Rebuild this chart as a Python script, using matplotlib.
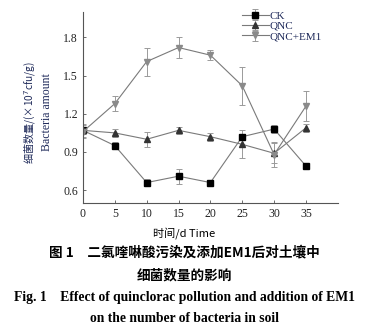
import matplotlib.pyplot as plt

days = [0, 5, 10, 15, 20, 25, 30, 35]
ck = [1.07, 0.95, 0.66, 0.71, 0.66, 1.02, 1.08, 0.79]
ck_err = [0.03, 0.03, 0.03, 0.06, 0.02, 0.02, 0.03, 0.01]
qnc = [1.07, 1.05, 1.00, 1.07, 1.02, 0.96, 0.89, 1.09]
qnc_err = [0.05, 0.03, 0.06, 0.03, 0.03, 0.11, 0.08, 0.03]
qnc_em1 = [1.06, 1.28, 1.61, 1.72, 1.66, 1.42, 0.88, 1.26]
qnc_em1_err = [0.05, 0.06, 0.11, 0.08, 0.04, 0.15, 0.10, 0.12]

x_ticks = [0, 5, 10, 15, 20, 25, 30, 35]
y_ticks = [0.6, 0.9, 1.2, 1.5, 1.8]

serif = ["Liberation Serif", "DejaVu Serif"]
cjk = ["Noto Sans CJK SC", "DejaVu Sans"]

fig = plt.figure(figsize=(3.68, 3.30), dpi=100)
ax = fig.add_axes([0.2255, 0.385, 0.6925, 0.579])

series = [
    (ck, ck_err, "s", "black", "CK"),
    (qnc, qnc_err, "^", "#333333", "QNC"),
    (qnc_em1, qnc_em1_err, "v", "#8a8a8a", "QNC+EM1"),
]
for vals, err, mk, col, lab in series:
    ax.errorbar(days, vals, yerr=err, color="#7a7a7a", linewidth=0.8,
                marker=mk, markersize=4.5, markerfacecolor=col,
                markeredgecolor=col, ecolor="#9a9a9a", elinewidth=0.7,
                capsize=2, capthick=0.7, label=lab)

ax.set_xlim(0, 40)
ax.set_ylim(0.5, 2.0)
ax.set_xticks(x_ticks)
ax.set_yticks(y_ticks)
ax.set_yticklabels([f"{v:.1f}" for v in y_ticks])
for s in ["top", "right"]:
    ax.spines[s].set_visible(False)
for s in ["left", "bottom"]:
    ax.spines[s].set_color("#555555")
    ax.spines[s].set_linewidth(0.8)
ax.tick_params(direction="in", length=2, width=0.6, colors="#555555",
               labelcolor="#222222", labelsize=8.5)
for lab in ax.get_xticklabels() + ax.get_yticklabels():
    lab.set_family(serif)

leg = ax.legend(loc="upper right", bbox_to_anchor=(0.96, 1.035), frameon=False,
                prop={"family": serif, "size": 8}, handlelength=2.4,
                handletextpad=0.1, labelspacing=0.05, borderaxespad=0.1)
for t in leg.get_texts():
    t.set_color("#1f2a5a")

fig.text(0.082, 0.66, "细菌数量/(×10$^7$cfu/g)", rotation=90, ha="center",
         va="center", fontsize=7.3, family=cjk, color="#1f2a5a")
fig.text(0.128, 0.66, "Bacteria amount", rotation=90, ha="center",
         va="center", fontsize=8.5, family=serif, color="#1f2a5a")

fig.text(0.5, 1 - 233 / 330, "时间/d Time", ha="center", va="center",
         fontsize=8, family=["Noto Sans CJK SC", "Liberation Serif"])
fig.text(0.5, 1 - 252 / 330, "图 1　二氯喹啉酸污染及添加EM1后对土壤中", ha="center",
         va="center", fontsize=9.8, fontweight="bold", family=cjk)
fig.text(0.5, 1 - 275 / 330, "细菌数量的影响", ha="center", va="center",
         fontsize=9.8, fontweight="bold", family=cjk)
fig.text(0.5, 1 - 297 / 330,
         "Fig. 1    Effect of quinclorac pollution and addition of EM1",
         ha="center", va="center", fontsize=9.8, fontweight="bold", family=serif)
fig.text(0.5, 1 - 318 / 330, "on the number of bacteria in soil", ha="center",
         va="center", fontsize=9.8, fontweight="bold", family=serif)

fig.savefig("out.png", dpi=100)
